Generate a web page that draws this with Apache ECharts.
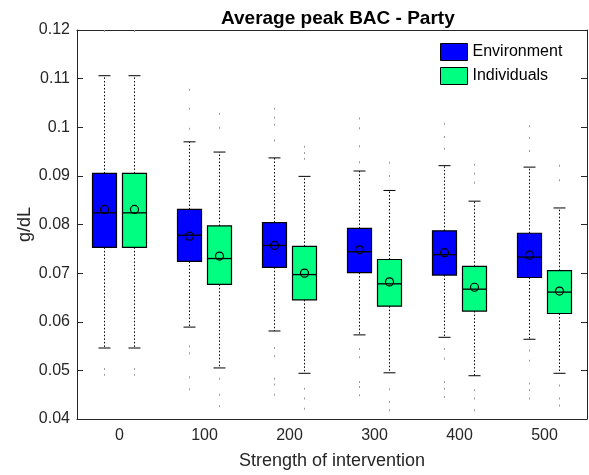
<!DOCTYPE html>
<html lang="en">
<head>
    <meta charset="UTF-8">
    <title>Average peak BAC - Party</title>
    <style>
        html, body { margin: 0; padding: 0; background: #fff; }
        #main { width: 589px; height: 475px; }
    </style>
</head>
<body>
    <div id="main"></div>
    <script src="https://cdn.jsdelivr.net/npm/echarts@6/dist/echarts.min.js"></script>
    <script>
        // strength of intervention (x categories)
        var strengths = ['0', '100', '200', '300', '400', '500'];
        var yTicks = [0.04, 0.05, 0.06, 0.07, 0.08, 0.09, 0.1, 0.11, 0.12];

        // Environment: whisker low, Q1, median, Q3, whisker high, mean
        var envLow    = [0.0546, 0.0589, 0.0581, 0.0573, 0.0568, 0.0564];
        var envQ1     = [0.0753, 0.0724, 0.0712, 0.0701, 0.0696, 0.0691];
        var envMedian = [0.0824, 0.0778, 0.0757, 0.0744, 0.0738, 0.0733];
        var envQ3     = [0.0905, 0.0831, 0.0804, 0.0792, 0.0787, 0.0782];
        var envHigh   = [0.1106, 0.0970, 0.0937, 0.0910, 0.0921, 0.0918];
        var envMean   = [0.0831, 0.0776, 0.0757, 0.0748, 0.0742, 0.0737];

        // Individuals
        var indLow    = [0.0546, 0.0505, 0.0494, 0.0495, 0.0489, 0.0494];
        var indQ1     = [0.0753, 0.0677, 0.0645, 0.0632, 0.0622, 0.0617];
        var indMedian = [0.0824, 0.0730, 0.0697, 0.0678, 0.0667, 0.0661];
        var indQ3     = [0.0905, 0.0797, 0.0755, 0.0728, 0.0714, 0.0705];
        var indHigh   = [0.1106, 0.0949, 0.0899, 0.0870, 0.0848, 0.0834];
        var indMean   = [0.0831, 0.0735, 0.0700, 0.0682, 0.0671, 0.0663];

        // outliers per strength
        var envOutliers = [
            [0.1198, 0.0503, 0.0491],
            [0.1077, 0.1038, 0.0997, 0.0549, 0.0535, 0.0486, 0.0461],
            [0.1038, 0.1020, 0.1005, 0.0973, 0.0546, 0.0529, 0.0483, 0.0471, 0.0450],
            [0.1018, 0.0998, 0.0961, 0.0928, 0.0544, 0.0527, 0.0476, 0.0466, 0.0449],
            [0.1007, 0.0980, 0.0956, 0.0544, 0.0524, 0.0476, 0.0462, 0.0445],
            [0.1002, 0.0978, 0.0951, 0.0541, 0.0520, 0.0473, 0.0459, 0.0442]
        ];
        var indOutliers = [
            [0.1198, 0.0503, 0.0491],
            [0.1028, 0.0999, 0.0483, 0.0450, 0.0426],
            [0.0960, 0.0947, 0.0935, 0.0462, 0.0442, 0.0421],
            [0.0927, 0.0900, 0.0461, 0.0435, 0.0418],
            [0.0923, 0.0905, 0.0886, 0.0459, 0.0442, 0.0418],
            [0.0921, 0.0891, 0.0469, 0.0442, 0.0428]
        ];

        var FONT = '"Liberation Sans", Arial, Helvetica, sans-serif';
        var AXIS_COLOR = '#262626';
        var BOX_HALF = 12;
        var CAP_HALF = 6;

        function boxData(low, q1, med, q3, high, mean) {
            return strengths.map(function (s, i) {
                return [i, low[i], q1[i], med[i], q3[i], high[i], mean[i]];
            });
        }
        function outlierData(list) {
            var out = [];
            list.forEach(function (vals, i) {
                vals.forEach(function (v) { out.push([i, v]); });
            });
            return out;
        }

        function makeBoxRenderer(offset, fill) {
            return function (params, api) {
                var c = api.value(0);
                var x = api.coord([c, 0])[0] + offset;
                var yLow = api.coord([c, api.value(1)])[1];
                var yQ1 = api.coord([c, api.value(2)])[1];
                var yMed = api.coord([c, api.value(3)])[1];
                var yQ3 = api.coord([c, api.value(4)])[1];
                var yHigh = api.coord([c, api.value(5)])[1];
                var yMean = api.coord([c, api.value(6)])[1];
                var dotted = { stroke: '#000', lineWidth: 1, lineDash: [1.5, 2] };
                var solid = { stroke: '#000', lineWidth: 1 };
                return {
                    type: 'group',
                    children: [
                        { type: 'line', shape: { x1: x, y1: yQ3, x2: x, y2: yHigh }, style: dotted },
                        { type: 'line', shape: { x1: x, y1: yQ1, x2: x, y2: yLow }, style: dotted },
                        { type: 'line', shape: { x1: x - CAP_HALF, y1: yHigh, x2: x + CAP_HALF, y2: yHigh }, style: solid },
                        { type: 'line', shape: { x1: x - CAP_HALF, y1: yLow, x2: x + CAP_HALF, y2: yLow }, style: solid },
                        { type: 'rect', shape: { x: x - BOX_HALF, y: yQ3, width: BOX_HALF * 2, height: yQ1 - yQ3 },
                          style: { fill: fill, stroke: '#000', lineWidth: 1.2 } },
                        { type: 'line', shape: { x1: x - BOX_HALF, y1: yMed, x2: x + BOX_HALF, y2: yMed }, style: { stroke: '#000', lineWidth: 1.3 } },
                        { type: 'circle', shape: { cx: x, cy: yMean, r: 4 }, style: { fill: 'none', stroke: '#000', lineWidth: 1.2 } }
                    ]
                };
            };
        }

        function makeOutlierRenderer(offset) {
            return function (params, api) {
                var p = api.coord([api.value(0), api.value(1)]);
                return {
                    type: 'rect',
                    shape: { x: p[0] + offset - 0.5, y: p[1] - 1, width: 1, height: 2 },
                    style: { fill: '#9a9a9a' }
                };
            };
        }

        var chart = echarts.init(document.getElementById('main'));

        var option = {
            animation: false,
            backgroundColor: '#fff',
            textStyle: { fontFamily: FONT },
            title: {
                text: 'Average peak BAC - Party',
                left: 216,
                top: 4,
                textStyle: { fontFamily: FONT, fontSize: 19, fontWeight: 'bold', color: '#000' }
            },
            legend: {
                orient: 'vertical',
                left: 440,
                top: 43,
                padding: 0,
                itemWidth: 27,
                itemHeight: 17,
                itemGap: 6,
                textStyle: { fontFamily: FONT, fontSize: 16, color: '#000' },
                data: [
                    { name: 'Environment', icon: 'rect', itemStyle: { color: '#0000ff', borderColor: '#000', borderWidth: 1 } },
                    { name: 'Individuals', icon: 'rect', itemStyle: { color: '#00ff80', borderColor: '#000', borderWidth: 1 } }
                ]
            },
            grid: { left: 77, right: 2, top: 30, bottom: 55 },
            xAxis: [{
                type: 'category',
                data: strengths,
                name: 'Strength of intervention',
                nameLocation: 'middle',
                nameGap: 33,
                nameTextStyle: { fontFamily: FONT, fontSize: 18, color: AXIS_COLOR },
                axisLine: { lineStyle: { color: AXIS_COLOR } },
                axisTick: { alignWithLabel: true, inside: true, length: 5, lineStyle: { color: AXIS_COLOR } },
                axisLabel: { fontFamily: FONT, fontSize: 16, color: AXIS_COLOR, margin: 9 },
                splitLine: { show: false }
            }, {
                type: 'category',
                data: strengths,
                position: 'top',
                axisLine: { lineStyle: { color: AXIS_COLOR } },
                axisTick: { alignWithLabel: true, inside: true, length: 5, lineStyle: { color: AXIS_COLOR } },
                axisLabel: { show: false },
                splitLine: { show: false }
            }],
            yAxis: [{
                type: 'value',
                min: yTicks[0],
                max: yTicks[yTicks.length - 1],
                interval: 0.01,
                name: 'g/dL',
                nameLocation: 'middle',
                nameGap: 43,
                nameMoveOverlap: false,
                nameTextStyle: { fontFamily: FONT, fontSize: 18, color: AXIS_COLOR },
                axisLine: { show: true, lineStyle: { color: AXIS_COLOR } },
                axisTick: { show: true, inside: true, length: 6, lineStyle: { color: AXIS_COLOR } },
                axisLabel: { fontFamily: FONT, fontSize: 16, color: AXIS_COLOR, margin: 7 },
                splitLine: { show: false }
            }, {
                type: 'value',
                position: 'right',
                min: yTicks[0],
                max: yTicks[yTicks.length - 1],
                interval: 0.01,
                axisLine: { show: true, lineStyle: { color: AXIS_COLOR } },
                axisTick: { show: true, inside: true, length: 6, lineStyle: { color: AXIS_COLOR } },
                axisLabel: { show: false },
                splitLine: { show: false }
            }],
            series: [{
                name: 'Environment',
                type: 'custom',
                itemStyle: { color: '#0000ff' },
                renderItem: makeBoxRenderer(-15, '#0000ff'),
                encode: { x: 0, y: [1, 2, 3, 4, 5, 6] },
                data: boxData(envLow, envQ1, envMedian, envQ3, envHigh, envMean),
                z: 3
            }, {
                name: 'Individuals',
                type: 'custom',
                itemStyle: { color: '#00ff80' },
                renderItem: makeBoxRenderer(15, '#00ff80'),
                encode: { x: 0, y: [1, 2, 3, 4, 5, 6] },
                data: boxData(indLow, indQ1, indMedian, indQ3, indHigh, indMean),
                z: 3
            }, {
                name: 'Environment outliers',
                type: 'custom',
                renderItem: makeOutlierRenderer(-15),
                encode: { x: 0, y: 1 },
                data: outlierData(envOutliers),
                z: 2
            }, {
                name: 'Individuals outliers',
                type: 'custom',
                renderItem: makeOutlierRenderer(15),
                encode: { x: 0, y: 1 },
                data: outlierData(indOutliers),
                z: 2
            }]
        };
        chart.setOption(option);
    </script>
</body>
</html>
